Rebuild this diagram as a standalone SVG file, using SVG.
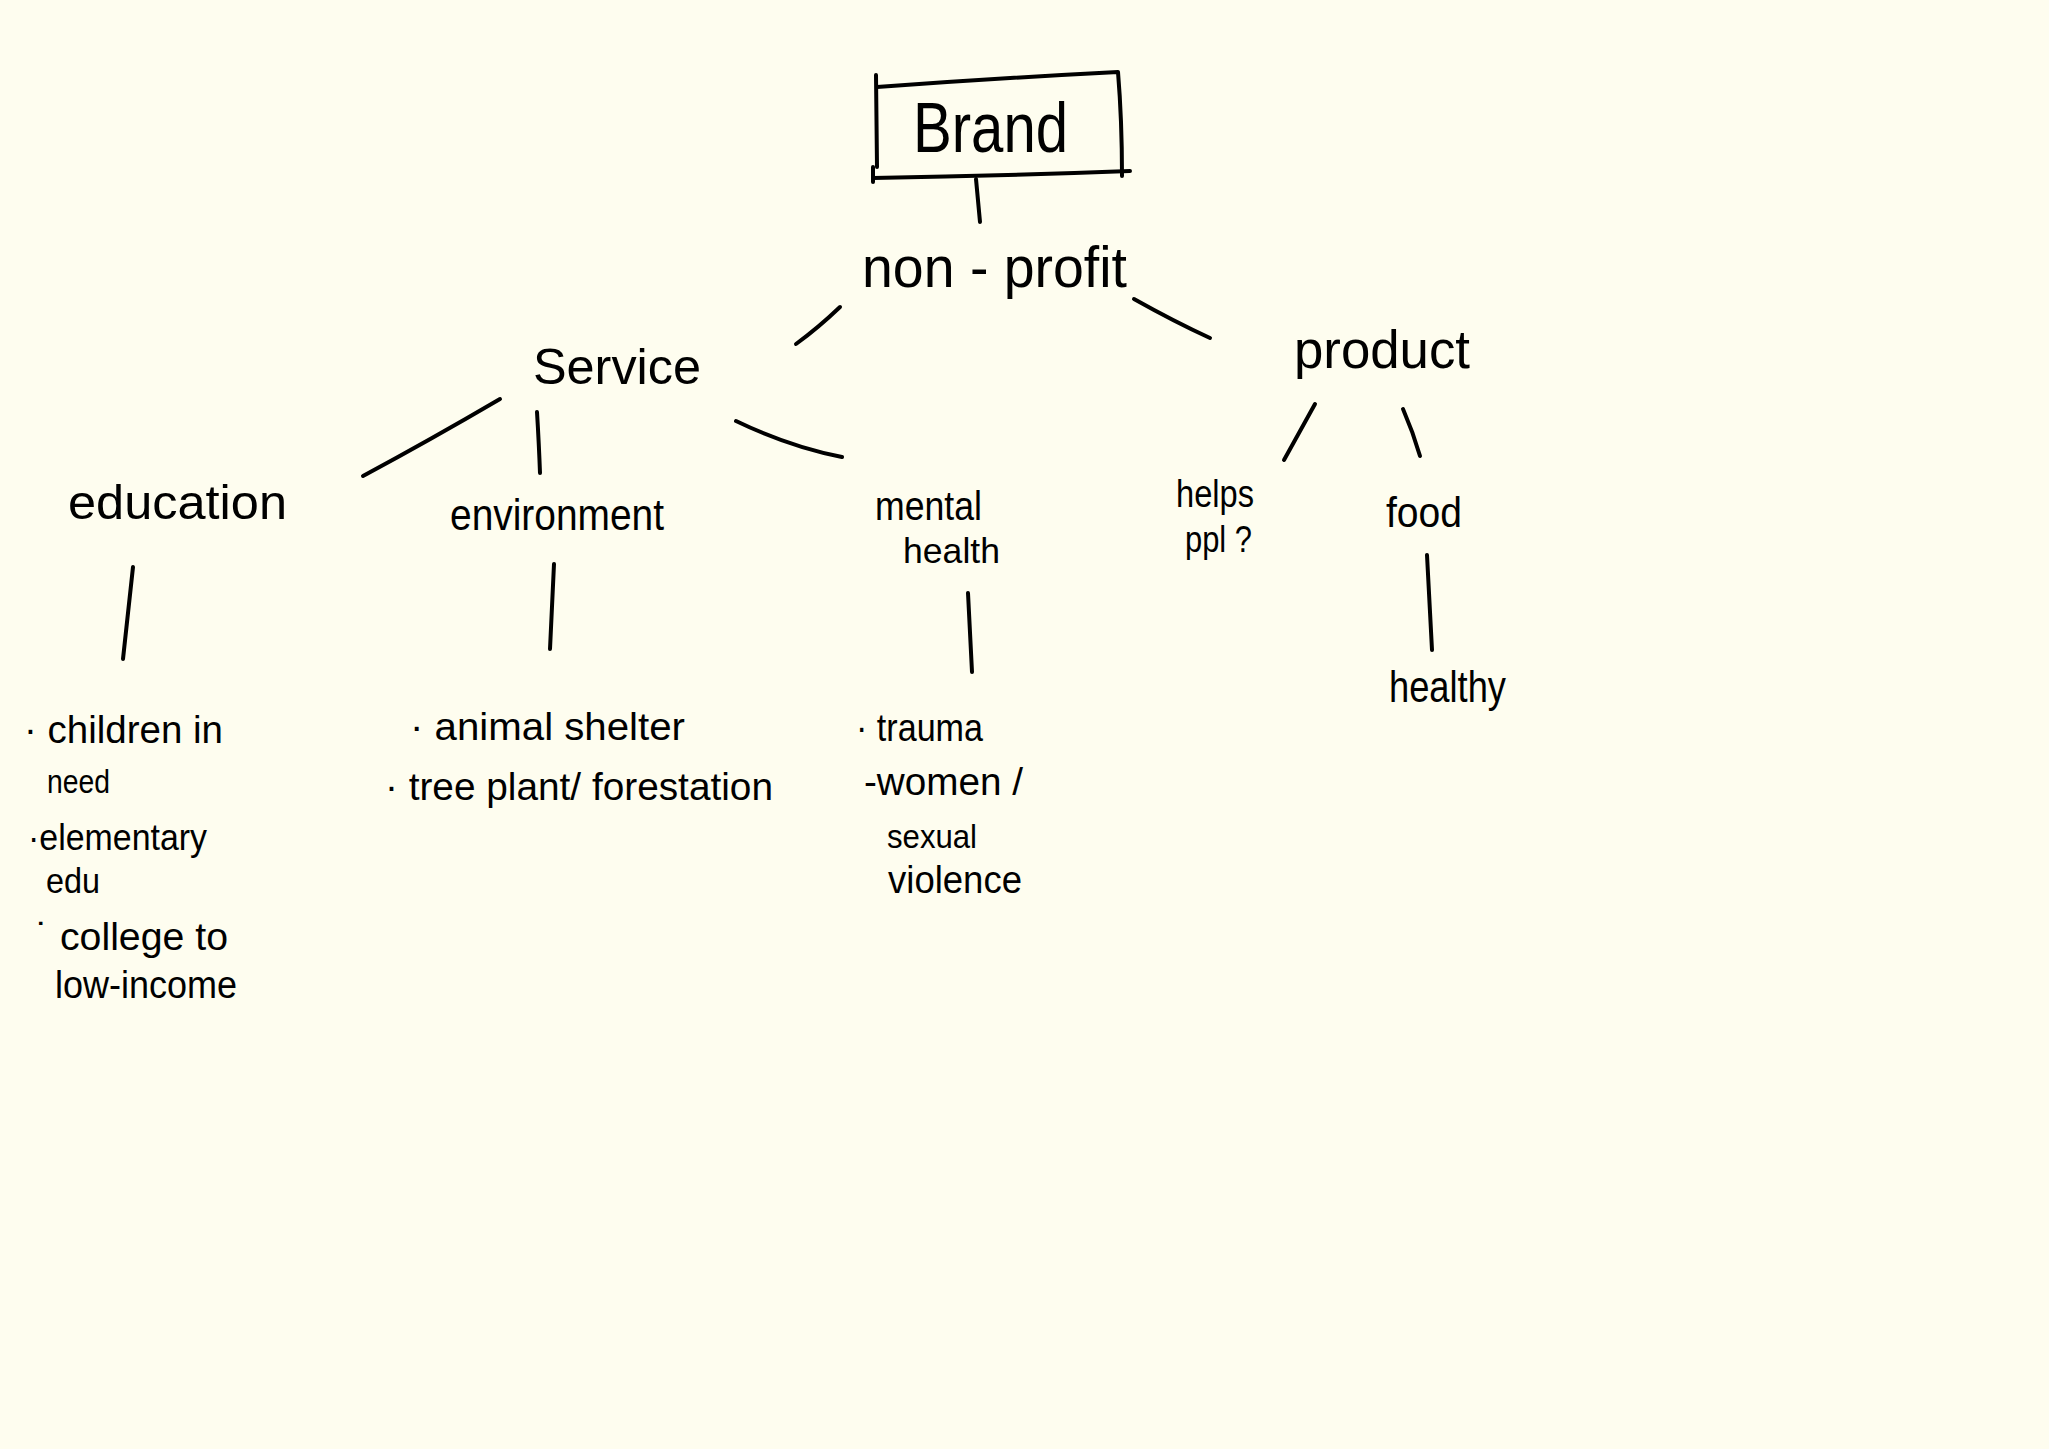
<svg xmlns="http://www.w3.org/2000/svg" width="2049" height="1449" viewBox="0 0 2049 1449">
<style>
.t{font-family:"Liberation Sans","DejaVu Sans",sans-serif;fill:#000;}
.ln{fill:none;stroke:#000;stroke-width:4;stroke-linecap:round;stroke-linejoin:round;}
</style>
<rect x="0" y="0" width="2049" height="1449" fill="#fefdef"/>
<g id="connectors">
<path class="ln" d="M976,179 L980,222"/>
<path class="ln" d="M840,307 Q818,328 796,344"/>
<path class="ln" d="M1134,299 Q1175,322 1210,338"/>
<path class="ln" d="M500,399 Q430,440 363,476"/>
<path class="ln" d="M537,412 Q539,445 540,473"/>
<path class="ln" d="M736,421 Q790,447 842,457"/>
<path class="ln" d="M1315,404 L1284,460"/>
<path class="ln" d="M1403,409 Q1413,432 1420,456"/>
<path class="ln" d="M133,567 L123,659"/>
<path class="ln" d="M554,564 L550,649"/>
<path class="ln" d="M968,593 L972,672"/>
<path class="ln" d="M1427,555 L1432,650"/>
</g>
<g id="brand">
<path class="ln" d="M877,87 Q1000,78 1118,72 Q1122,120 1122,176"/>
<path class="ln" d="M876,75 L877,167"/>
<path class="ln" d="M873,167 L873,182"/>
<path class="ln" d="M873,178 Q1000,176 1130,171"/>
<text class="t" x="913" y="152" font-size="70" textLength="155" lengthAdjust="spacingAndGlyphs">Brand</text>
</g>
<g id="nonprofit">
<text class="t" x="862" y="287" font-size="58" textLength="265" lengthAdjust="spacingAndGlyphs">non - profit</text>
</g>
<g id="service">
<text class="t" x="533" y="384" font-size="50" textLength="168" lengthAdjust="spacingAndGlyphs">Service</text>
</g>
<g id="product">
<text class="t" x="1294" y="368" font-size="54" textLength="176" lengthAdjust="spacingAndGlyphs">product</text>
</g>
<g id="education">
<text class="t" x="68" y="519" font-size="48" textLength="219" lengthAdjust="spacingAndGlyphs">education</text>
</g>
<g id="environment">
<text class="t" x="450" y="530" font-size="45" textLength="214" lengthAdjust="spacingAndGlyphs">environment</text>
</g>
<g id="mental-health">
<text class="t" x="875" y="520" font-size="41" textLength="107" lengthAdjust="spacingAndGlyphs">mental</text>
<text class="t" x="903" y="563" font-size="35" textLength="97" lengthAdjust="spacingAndGlyphs">health</text>
</g>
<g id="helps-ppl">
<text class="t" x="1176" y="507" font-size="38" textLength="78" lengthAdjust="spacingAndGlyphs">helps</text>
<text class="t" x="1185" y="552" font-size="37" textLength="67" lengthAdjust="spacingAndGlyphs">ppl ?</text>
</g>
<g id="food">
<text class="t" x="1386" y="527" font-size="43" textLength="76" lengthAdjust="spacingAndGlyphs">food</text>
</g>
<g id="healthy">
<text class="t" x="1389" y="702" font-size="45" textLength="117" lengthAdjust="spacingAndGlyphs">healthy</text>
</g>
<g id="education-list">
<text class="t" x="24" y="743" font-size="38" textLength="199" lengthAdjust="spacingAndGlyphs">· children in</text>
<text class="t" x="47" y="793" font-size="33" textLength="63" lengthAdjust="spacingAndGlyphs">need</text>
<text class="t" x="28" y="850" font-size="37" textLength="179" lengthAdjust="spacingAndGlyphs">·elementary</text>
<text class="t" x="46" y="893" font-size="35" textLength="54" lengthAdjust="spacingAndGlyphs">edu</text>
<text class="t" x="36" y="950" font-size="38" textLength="192" lengthAdjust="spacingAndGlyphs">˙ college to</text>
<text class="t" x="55" y="998" font-size="38" textLength="182" lengthAdjust="spacingAndGlyphs">low-income</text>
</g>
<g id="environment-list">
<text class="t" x="410" y="740" font-size="38" textLength="275" lengthAdjust="spacingAndGlyphs">·  animal shelter</text>
<text class="t" x="385" y="800" font-size="38" textLength="388" lengthAdjust="spacingAndGlyphs">· tree  plant/ forestation</text>
</g>
<g id="mental-list">
<text class="t" x="856" y="741" font-size="38" textLength="127" lengthAdjust="spacingAndGlyphs">· trauma</text>
<text class="t" x="864" y="795" font-size="38" textLength="159" lengthAdjust="spacingAndGlyphs">-women /</text>
<text class="t" x="887" y="848" font-size="34" textLength="90" lengthAdjust="spacingAndGlyphs">sexual</text>
<text class="t" x="888" y="893" font-size="38" textLength="134" lengthAdjust="spacingAndGlyphs">violence</text>
</g>
</svg>
